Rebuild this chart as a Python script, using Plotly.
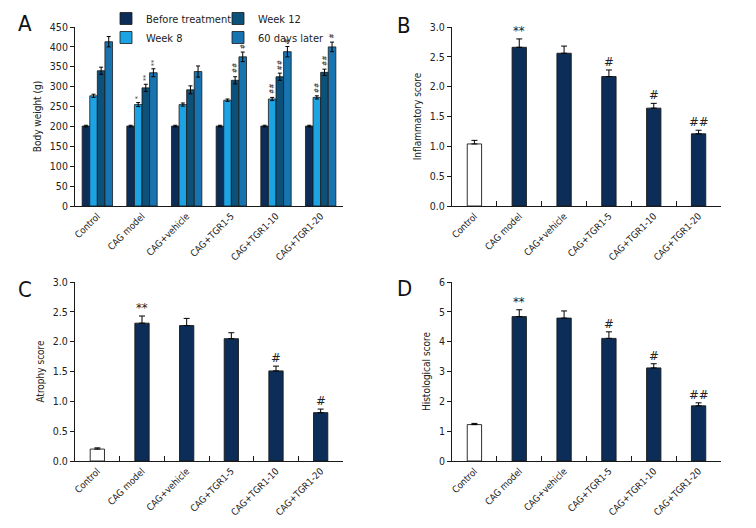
import plotly.graph_objects as go

categories = ["Control", "CAG model", "CAG+vehicle", "CAG+TGR1-5", "CAG+TGR1-10", "CAG+TGR1-20"]

# Panel A: body weight (g)
bw_series = ["Before treatment", "Week 8", "Week 12", "60 days later"]
bw_before = [201, 201, 201, 201, 201, 201]
bw_before_err = [2, 2, 2, 2, 2, 2]
bw_week8 = [277, 255, 255, 266, 269, 273]
bw_week8_err = [4, 5, 4, 3, 4, 4]
bw_week12 = [340, 297, 292, 316, 325, 336]
bw_week12_err = [9, 9, 10, 9, 9, 8]
bw_60d = [413, 335, 338, 375, 388, 400]
bw_60d_err = [13, 10, 14, 12, 13, 12]
bw_before_sig = ["", "", "", "", "", ""]
bw_week8_sig = ["", "*", "", "", "##", "##"]
bw_week12_sig = ["", "**", "", "##", "##", "##"]
bw_60d_sig = ["", "**", "", "#", "#", "#"]

# Panel B: inflammatory score
infl = [1.04, 2.66, 2.56, 2.17, 1.64, 1.21]
infl_err = [0.06, 0.14, 0.12, 0.11, 0.08, 0.06]
infl_sig = ["", "**", "", "#", "#", "##"]

# Panel C: atrophy score
atro = [0.20, 2.31, 2.27, 2.05, 1.51, 0.81]
atro_err = [0.02, 0.12, 0.12, 0.10, 0.08, 0.06]
atro_sig = ["", "**", "", "", "#", "#"]

# Panel D: histological score
hist = [1.22, 4.84, 4.79, 4.11, 3.12, 1.85]
hist_err = [0.04, 0.23, 0.24, 0.22, 0.14, 0.10]
hist_sig = ["", "**", "", "#", "#", "##"]

FONT = "DejaVu Sans Condensed, Liberation Sans Narrow, sans-serif"
NAVY = "#0b2d57"
A_COLORS = ["#0b2d57", "#1ba3e3", "#0b5179", "#1874b0"]
LINE = "#1a1a1a"
TXT = "#222222"

W, H = 756, 528

fig = go.Figure()

# ---- Panel A ----
vals_A = [bw_before, bw_week8, bw_week12, bw_60d]
errs_A = [bw_before_err, bw_week8_err, bw_week12_err, bw_60d_err]
sigs_A = [bw_before_sig, bw_week8_sig, bw_week12_sig, bw_60d_sig]
legends_A = ["legend", "legend", "legend2", "legend2"]
bar_w = 0.17
for i, name in enumerate(bw_series):
    off = -2 * bar_w + i * bar_w
    fig.add_trace(go.Bar(
        x=categories, y=vals_A[i], name=name, width=bar_w, offset=off,
        marker=dict(color=A_COLORS[i], line=dict(color=LINE, width=0.8)),
        error_y=dict(type="data", array=errs_A[i], symmetric=True, color="black", thickness=1, width=2),
        legend=legends_A[i], xaxis="x", yaxis="y",
    ))
    for j, s in enumerate(sigs_A[i]):
        if s:
            fig.add_annotation(x=j + off + bar_w / 2, y=vals_A[i][j] + errs_A[i][j], xref="x", yref="y",
                               text=s, textangle=-90, showarrow=False, yanchor="bottom", yshift=1,
                               font=dict(size=7, family=FONT, color=TXT))

# ---- Panels B, C, D ----
def score_panel(vals, errs, sigs, xa, ya):
    fig.add_trace(go.Bar(
        x=categories, y=vals, width=0.32, offset=-0.16,
        marker=dict(color=["white"] + [NAVY] * (len(vals) - 1), line=dict(color=LINE, width=0.9)),
        error_y=dict(type="data", array=errs, arrayminus=[0] * len(errs), symmetric=False,
                     color="black", thickness=1, width=3),
        showlegend=False, xaxis=xa, yaxis=ya,
    ))
    for j, s in enumerate(sigs):
        if s:
            fig.add_annotation(x=j, y=vals[j] + errs[j], xref=xa, yref=ya,
                               text=s, showarrow=False, yanchor="bottom", yshift=-1,
                               font=dict(size=13, family=FONT, color=TXT))

score_panel(infl, infl_err, infl_sig, "x2", "y2")
score_panel(atro, atro_err, atro_sig, "x3", "y3")
score_panel(hist, hist_err, hist_sig, "x4", "y4")

def xax(domain, anchor, boundary_ticks):
    d = dict(domain=domain, anchor=anchor, type="category", categoryorder="array",
             categoryarray=categories, range=[-0.5, 5.5], showline=True, linecolor=LINE,
             linewidth=1, tickangle=-45, showgrid=False, zeroline=False, automargin=False,
             tickfont=dict(size=9.5, family=FONT, color=TXT))
    if boundary_ticks:
        d.update(ticks="inside", tickson="boundaries", ticklen=5, tickcolor=LINE)
    else:
        d.update(ticks="")
    return d

def yax(domain, anchor, rng, dtick, fmt, title, standoff):
    return dict(domain=domain, anchor=anchor, range=rng, dtick=dtick, tickformat=fmt,
                showline=True, linecolor=LINE, linewidth=1, ticks="outside", ticklen=4,
                tickcolor=LINE, showgrid=False, zeroline=False, automargin=False,
                tickfont=dict(size=10.5, family=FONT, color=TXT),
                title=dict(text=title, standoff=standoff, font=dict(size=10, family=FONT, color=TXT)))

xl = [75 / W, 343 / W]
xr = [452 / W, 721 / W]
yt = [1 - 206 / H, 1 - 27 / H]
yb = [1 - 461 / H, 1 - 282 / H]

LEG_FONT = dict(size=11, family=FONT, color=TXT)
fig.update_layout(
    width=W, height=H, margin=dict(l=0, r=0, t=0, b=0, autoexpand=False),
    paper_bgcolor="white", plot_bgcolor="white", barmode="overlay",
    font=dict(family=FONT, color=TXT),
    xaxis=xax(xl, "y", False), yaxis=yax(yt, "x", [0, 450], 50, "d", "Body weight (g)", 6),
    xaxis2=xax(xr, "y2", True), yaxis2=yax(yt, "x2", [0, 3.0], 0.5, ".1f", "Inflammatory score", 6),
    xaxis3=xax(xl, "y3", True), yaxis3=yax(yb, "x3", [0, 3.0], 0.5, ".1f", "Atrophy score", 6),
    xaxis4=xax(xr, "y4", True), yaxis4=yax(yb, "x4", [0, 6], 1, "d", "Histological score", 6),
    legend=dict(x=106 / W, y=1 - 4 / H, xanchor="left", yanchor="top", orientation="v",
                font=LEG_FONT, bgcolor="rgba(0,0,0,0)", itemwidth=30, tracegroupgap=0),
    legend2=dict(x=218 / W, y=1 - 4 / H, xanchor="left", yanchor="top", orientation="v",
                 font=LEG_FONT, bgcolor="rgba(0,0,0,0)", itemwidth=30, tracegroupgap=0),
)

for letter, px, py in [("A", 25, 24), ("B", 404, 26), ("C", 25, 289), ("D", 404, 288)]:
    fig.add_annotation(x=px / W, y=1 - py / H, xref="paper", yref="paper", text=letter,
                       xanchor="center", yanchor="middle", showarrow=False,
                       font=dict(size=22, family=FONT, color="#111"))

fig.write_html("out.html", config={"displayModeBar": False},
               post_script="document.body.style.margin='0';document.body.style.overflow='hidden';")
